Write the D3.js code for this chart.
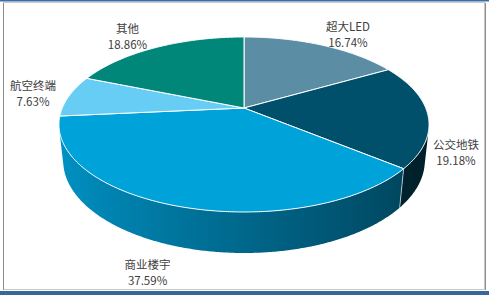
<!DOCTYPE html>
<html>
<head>
<meta charset="utf-8">
<script src="https://cdn.jsdelivr.net/npm/d3@7/dist/d3.min.js"></script>
<style>
  html, body { margin: 0; padding: 0; background: #fff; }
  svg { display: block; }
  .label { font-family: "Noto Sans CJK SC", "Noto Sans", sans-serif; font-size: 11.5px; fill: #404040; }
</style>
</head>
<body>
<svg id="chart" width="489" height="295"></svg>
<script>
var categories = ['超大LED', '公交地铁', '商业楼宇', '航空终端', '其他'];
var shares = [16.74, 19.18, 37.59, 7.63, 18.86];
var sliceColors = ['#5b8ea5', '#00506b', '#00a2da', '#67cdf5', '#00877a'];

var width = 489, height = 295;

// perspective settings for the tilted disc
var cx = 244, cy = 108, focal = 854, dist = 4.70, thick = 0.227;
var sinA = 0.4645, cosA = Math.sqrt(1 - sinA * sinA);

function project(a, r, h) {
  var X = r * Math.sin(a), Z = r * Math.cos(a);
  var yc = Z * sinA + h * cosA;
  var zc = dist + Z * cosA - h * sinA;
  return [cx + focal * X / zc, cy - focal * yc / zc];
}

function shade(color, a) {
  var k = 0.64 - 0.27 * Math.sin(a);
  var c = d3.rgb(color);
  return d3.rgb(c.r * k, c.g * k, c.b * k).formatHex();
}

function arcPoints(a0, a1, r, h) {
  var n = Math.max(2, Math.ceil((a1 - a0) / (Math.PI / 360))), pts = [], i;
  for (i = 0; i <= n; i++) pts.push(project(a0 + (a1 - a0) * i / n, r, h));
  return pts;
}

function facing(a, b) {
  return d3.polygonArea([project(a, 1, 0), project(b, 1, 0), project(b, 1, -thick), project(a, 1, -thick)]) > 0;
}

var svg = d3.select('#chart');
var defs = svg.append('defs');

// frame
svg.append('rect').attr('x', 0).attr('y', 0).attr('width', width).attr('height', 1.5).attr('fill', '#3a6ea5');
svg.append('rect').attr('x', 3.5).attr('y', 2.5).attr('width', 481).attr('height', 287)
  .attr('fill', 'none').attr('stroke', '#c8c8c8').attr('stroke-width', 1);
svg.append('line').attr('x1', 3.5).attr('x2', 3.5).attr('y1', 3).attr('y2', 290).attr('stroke', '#8c8c8c');
svg.append('line').attr('x1', 485.5).attr('x2', 485.5).attr('y1', 3).attr('y2', 290).attr('stroke', '#8c8c8c');
svg.append('rect').attr('x', 0).attr('y', 291).attr('width', width).attr('height', 4).attr('fill', '#38689a');

var pie = d3.pie().sort(null).value(function(d) { return d; });
var arcs = pie(shares);

var sides = svg.append('g').attr('class', 'sides');
var tops = svg.append('g').attr('class', 'tops');
var labels = svg.append('g').attr('class', 'labels');

var step = Math.PI / 180;
var line = d3.line();

// side walls, only the part that faces the viewer, shaded left to right
arcs.forEach(function(d, i) {
  var a, b, a0 = null, a1 = null;
  for (a = d.startAngle; a < d.endAngle - 1e-9; a = b) {
    b = Math.min(a + step, d.endAngle);
    if (facing(a, b)) {
      if (a0 === null) a0 = a;
      a1 = b;
    }
  }
  if (a0 === null) return;

  var topPts = arcPoints(a0, a1, 1, 0);
  var botPts = arcPoints(a0, a1, 1, -thick);
  var xs = topPts.map(function(p) { return p[0]; });
  var xMin = d3.min(xs), xMax = d3.max(xs);
  var gid = 'side' + i;
  var grad = defs.append('linearGradient')
    .attr('id', gid)
    .attr('gradientUnits', 'userSpaceOnUse')
    .attr('x1', xMin).attr('x2', xMax).attr('y1', 0).attr('y2', 0);
  var n = 24, k;
  var stops = [];
  for (k = 0; k <= n; k++) {
    var ang = a0 + (a1 - a0) * k / n;
    stops.push({off: (project(ang, 1, 0)[0] - xMin) / Math.max(1e-6, xMax - xMin), col: shade(sliceColors[i], ang)});
  }
  stops.sort(function(p, q) { return p.off - q.off; });
  stops.forEach(function(s) {
    grad.append('stop').attr('offset', Math.min(1, Math.max(0, s.off))).attr('stop-color', s.col);
  });

  sides.append('path')
    .attr('d', line(topPts.concat(botPts.reverse())) + 'Z')
    .attr('fill', 'url(#' + gid + ')');
});

// light edge where two slices meet on the side
arcs.forEach(function(d) {
  if (!facing(d.startAngle - 0.005, d.startAngle + 0.005)) return;
  var p0 = project(d.startAngle, 1, 0), p1 = project(d.startAngle, 1, -thick);
  sides.append('line')
    .attr('x1', p0[0]).attr('y1', p0[1]).attr('x2', p1[0]).attr('y2', p1[1])
    .attr('stroke', '#ffffff').attr('stroke-opacity', 0.6).attr('stroke-width', 1);
});

// top face
tops.selectAll('path')
  .data(arcs)
  .join('path')
  .attr('d', function(d) {
    return line([project(0, 0, 0)].concat(arcPoints(d.startAngle, d.endAngle, 1, 0))) + 'Z';
  })
  .attr('fill', function(d, i) { return sliceColors[i]; })
  .attr('stroke', '#ffffff')
  .attr('stroke-width', 1)
  .attr('stroke-linejoin', 'round');

// labels: pushed out from the slice middle, kept inside the frame
arcs.forEach(function(d, i) {
  var mid = (d.startAngle + d.endAngle) / 2;
  var h = Math.cos(mid) < 0 ? -thick : 0;
  var py = project(mid, 1.2, h)[1];
  var px = project(mid, 1.4, h)[0];
  var t = labels.append('text')
    .attr('class', 'label')
    .attr('text-anchor', 'middle')
    .attr('y', py - 4);
  var t1 = t.append('tspan').text(categories[i]);
  var t2 = t.append('tspan').attr('dy', 16).text(shares[i].toFixed(2) + '%');
  var half = Math.max(t1.node().getComputedTextLength(), t2.node().getComputedTextLength()) / 2;
  px = Math.max(10 + half, Math.min(479 - half, px));
  t1.attr('x', px);
  t2.attr('x', px);
});
</script>
</body>
</html>
